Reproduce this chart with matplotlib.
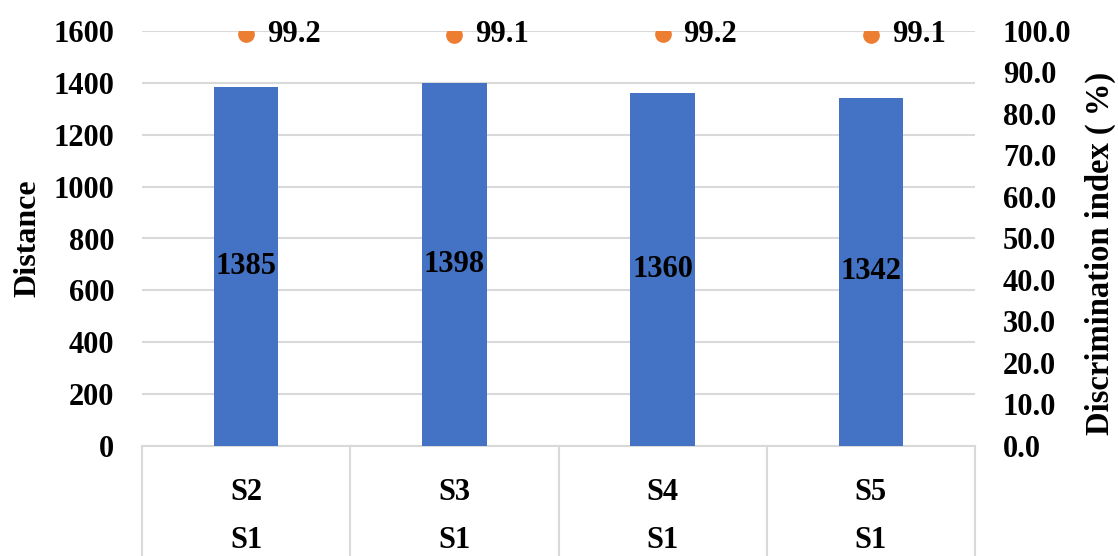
import matplotlib.pyplot as plt
import numpy as np

# chart data
groups = ["S2", "S3", "S4", "S5"]
base = ["S1", "S1", "S1", "S1"]
distance = [1385, 1398, 1360, 1342]
disc_index = [99.2, 99.1, 99.2, 99.1]

plt.rcParams['font.family'] = ['Liberation Serif', 'DejaVu Serif']
plt.rcParams['font.weight'] = 'bold'

FS = 22
fig = plt.figure(figsize=(11.18, 5.56), dpi=100)
W, H = 1118, 556
x0, x1, ytop, ybot = 142, 975, 31, 446
ax = fig.add_axes([x0 / W, 1 - ybot / H, (x1 - x0) / W, (ybot - ytop) / H])
ax2 = ax.twinx()

x = np.arange(len(groups))
ax.bar(x, distance, width=0.31, color='#4472C4', zorder=3)
ax.set_xlim(-0.5, len(groups) - 0.5)
ax.set_ylim(0, 1600)
ax.set_yticks(np.arange(0, 1601, 200))
ax.grid(axis='y', color='#D9D9D9', linewidth=1.5, zorder=0)
ax.set_axisbelow(True)
for s in ax.spines.values():
    s.set_visible(False)
for s in ax2.spines.values():
    s.set_visible(False)
ax.tick_params(axis='both', length=0, labelsize=FS, pad=20)
ax.set_xticks([])
ax.set_ylabel("Distance", fontsize=23, fontweight='bold', labelpad=8)

for xi, d in zip(x, distance):
    ax.text(xi, d / 2, str(d), ha='center', va='center', fontsize=FS, fontweight='bold', zorder=4)

ax2.set_ylim(0, 100)
ax2.set_yticks(np.arange(0, 101, 10))
ax2.set_yticklabels([f"{v:.1f}" for v in np.arange(0, 101, 10)])
ax2.tick_params(axis='y', length=0, labelsize=FS, pad=20)
ax2.set_ylabel("Discrimination index ( %)", fontsize=23.5, fontweight='bold')
ax2.yaxis.set_label_coords(1.132, 0.465)
ax2.plot(x, disc_index, 'o', color='#ED7D31', markersize=11, linestyle='none', zorder=5)
for xi, v in zip(x, disc_index):
    ax2.annotate(f"{v:.1f}", (xi, v), xytext=(15, 0), textcoords='offset points',
                 ha='left', va='center', fontsize=FS, fontweight='bold')

# two-level category table below the axis
trans = ax.get_xaxis_transform()
ax.plot([-0.5, len(groups) - 0.5], [0, 0], color='#D9D9D9', linewidth=1.5,
        transform=trans, clip_on=False)
tbl_h = (H - ybot) / (ybot - ytop)
for b in np.arange(-0.5, len(groups), 1.0):
    ax.plot([b, b], [0, -tbl_h], color='#D9D9D9', linewidth=1.5,
            transform=trans, clip_on=False)
for xi, g, b in zip(x, groups, base):
    ax.text(xi, -46 / (ybot - ytop), g, ha='center', va='center', fontsize=FS,
            fontweight='bold', transform=trans)
    ax.text(xi, -94 / (ybot - ytop), b, ha='center', va='center', fontsize=FS,
            fontweight='bold', transform=trans)

fig.savefig("out.png", dpi=100)
